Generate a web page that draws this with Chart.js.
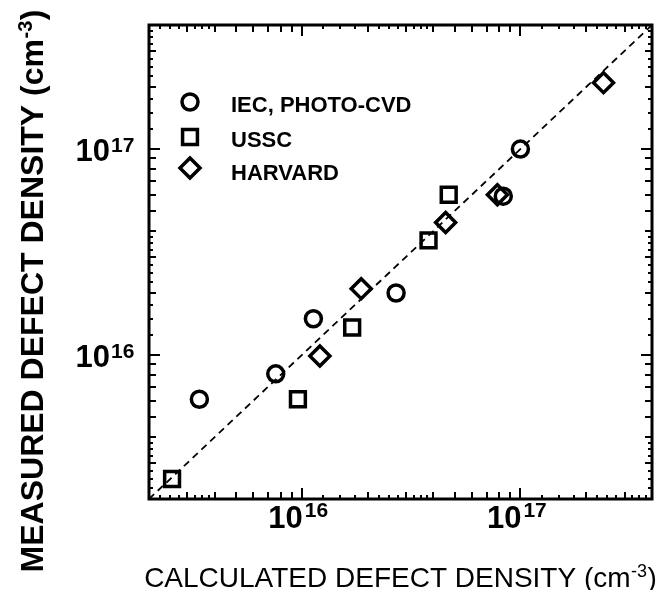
<!DOCTYPE html>
<html>
<head>
<meta charset="utf-8">
<script src="https://cdn.jsdelivr.net/npm/chart.js@4.4.0/dist/chart.umd.min.js"></script>
<style>
html,body{margin:0;padding:0;background:#fff;}
#wrap{width:669px;height:590px;}
</style>
</head>
<body>
<div id="wrap"><canvas id="c" width="669" height="590"></canvas></div>
<script>
// ---- data ----
const seriesLabels = ['IEC, PHOTO-CVD', 'USSC', 'HARVARD'];
const iecX  = [3.4e15, 7.6e15, 1.13e16, 2.7e16, 8.35e16, 1.0e17];
const iecY  = [6.1e15, 8.1e15, 1.5e16, 2.0e16, 5.9e16, 1.0e17];
const usscX = [2.55e15, 9.6e15, 1.7e16, 3.8e16, 4.7e16];
const usscY = [2.5e15, 6.1e15, 1.36e16, 3.6e16, 6.0e16];
const harvX = [1.21e16, 1.87e16, 4.55e16, 7.85e16, 2.4e17];
const harvY = [9.9e15, 2.1e16, 4.4e16, 6.0e16, 2.1e17];
const fitX  = [2e15, 4e17];
const fitY  = [2e15, 4e17];
const axisMin = 2e15;
const axisMax = 4e17;
const majorTicks = [1e16, 1e17];
const tickBase = ['10', '10'];
const tickExp = ['16', '17'];
const minorMantissas = [1.25, 1.5, 1.75, 2, 2.25, 2.5, 2.75, 3, 3.25, 3.5, 3.75, 4, 5, 6, 7, 8, 9];
const xTitle = ['CALCULATED DEFECT DENSITY (cm', '-3', ')'];
const yTitle = ['MEASURED DEFECT DENSITY (cm', '-3', ')'];

const pts = (xs, ys) => xs.map((x, i) => ({x: x, y: ys[i]}));
const FONT = '"Liberation Sans", Arial, Helvetica, sans-serif';
const MARK = [
  {style: 'circle', r: 8},
  {style: 'rect', r: 10.5},
  {style: 'rectRot', r: 10}
];
const MARK_LW = 3.5;

function markerPath(ctx, style, r, x, y) {
  ctx.beginPath();
  if (style === 'circle') {
    ctx.arc(x, y, r, 0, Math.PI * 2);
  } else if (style === 'rect') {
    const h = r * Math.SQRT1_2;
    ctx.rect(x - h, y - h, 2 * h, 2 * h);
  } else {
    ctx.moveTo(x - r, y); ctx.lineTo(x, y - r); ctx.lineTo(x + r, y); ctx.lineTo(x, y + r);
    ctx.closePath();
  }
}

function drawSupText(ctx, parts, font, supFont, rise) {
  ctx.font = font;
  const w0 = ctx.measureText(parts[0]).width;
  const w2 = ctx.measureText(parts[2]).width;
  ctx.font = supFont;
  const w1 = ctx.measureText(parts[1]).width + 1;
  const total = w0 + w1 + w2;
  let x = -total / 2;
  ctx.textAlign = 'left';
  ctx.textBaseline = 'alphabetic';
  ctx.font = font; ctx.fillText(parts[0], x, 0); x += w0;
  ctx.font = supFont; ctx.fillText(parts[1], x + 0.5, -rise); x += w1;
  ctx.font = font; ctx.fillText(parts[2], x, 0);
}

const decor = {
  id: 'decor',
  afterDraw(chart) {
    const ctx = chart.ctx;
    const a = chart.chartArea;
    const xs = chart.scales.x, ys = chart.scales.y;
    ctx.save();
    ctx.strokeStyle = '#000';
    ctx.fillStyle = '#000';
    // inward ticks on all four sides
    ctx.lineWidth = 2;
    const lo = Math.floor(Math.log10(axisMin)), hi = Math.ceil(Math.log10(axisMax));
    for (let d = lo; d <= hi; d++) {
      const ms = [1].concat(minorMantissas);
      for (const m of ms) {
        const v = m * Math.pow(10, d);
        if (v <= axisMin * 1.0001 || v >= axisMax * 0.9999) continue;
        const len = m === 1 ? 11 : (Number.isInteger(m) ? 7 : 4);
        const px = Math.round(xs.getPixelForValue(v));
        const py = Math.round(ys.getPixelForValue(v));
        ctx.beginPath();
        ctx.moveTo(px, a.bottom); ctx.lineTo(px, a.bottom - len);
        ctx.moveTo(px, a.top); ctx.lineTo(px, a.top + len);
        ctx.moveTo(a.left, py); ctx.lineTo(a.left + len, py);
        ctx.moveTo(a.right, py); ctx.lineTo(a.right - len, py);
        ctx.stroke();
      }
    }
    // frame
    ctx.lineWidth = 3;
    ctx.strokeRect(a.left, a.top, a.right - a.left, a.bottom - a.top);

    // tick labels
    majorTicks.forEach((v, i) => {
      const px = xs.getPixelForValue(v);
      ctx.textBaseline = 'alphabetic';
      ctx.font = 'bold 31px ' + FONT;
      ctx.textAlign = 'right';
      ctx.fillText(tickBase[i], px + 1, a.bottom + 29);
      ctx.font = 'bold 21px ' + FONT;
      ctx.textAlign = 'left';
      ctx.fillText(tickExp[i], px + 3, a.bottom + 18);

      const py = ys.getPixelForValue(v);
      ctx.font = 'bold 31px ' + FONT;
      ctx.textAlign = 'right';
      ctx.fillText(tickBase[i], a.left - 39, py + 12);
      ctx.font = 'bold 21px ' + FONT;
      ctx.textAlign = 'left';
      ctx.fillText(tickExp[i], a.left - 38, py + 3);
    });

    // axis titles
    ctx.save();
    ctx.translate((a.left + a.right) / 2, a.bottom + 88);
    drawSupText(ctx, xTitle, '28px ' + FONT, '18px ' + FONT, 10);
    ctx.restore();

    ctx.save();
    ctx.translate(43, 291);
    ctx.rotate(-Math.PI / 2);
    drawSupText(ctx, yTitle, 'bold 32px ' + FONT, 'bold 20px ' + FONT, 11);
    ctx.restore();

    // legend
    seriesLabels.forEach((lab, i) => {
      const cy = [a.top + 77, a.top + 112, a.top + 143][i];
      ctx.lineWidth = MARK_LW;
      markerPath(ctx, MARK[i].style, MARK[i].r, a.left + 41, cy);
      ctx.stroke();
      ctx.font = 'bold 22px ' + FONT;
      ctx.textAlign = 'left';
      ctx.textBaseline = 'alphabetic';
      ctx.fillText(lab, a.left + 82, [a.top + 87, a.top + 122, a.top + 155][i]);
    });
    ctx.restore();
  }
};

const markerDs = (label, data, i) => ({
  label: label,
  data: data,
  pointStyle: MARK[i].style,
  pointRadius: MARK[i].r,
  pointHoverRadius: MARK[i].r,
  pointBorderWidth: MARK_LW,
  pointBorderColor: '#000',
  pointBackgroundColor: 'rgba(0,0,0,0)',
  borderColor: '#000',
  backgroundColor: 'rgba(0,0,0,0)',
  showLine: false,
  order: 1
});

new Chart(document.getElementById('c'), {
  type: 'scatter',
  data: {
    datasets: [
      {
        label: 'y = x',
        data: pts(fitX, fitY),
        showLine: true,
        borderColor: '#000',
        borderWidth: 1.8,
        borderDash: [7, 5],
        pointRadius: 0,
        fill: false,
        order: 2
      },
      markerDs(seriesLabels[0], pts(iecX, iecY), 0),
      markerDs(seriesLabels[1], pts(usscX, usscY), 1),
      markerDs(seriesLabels[2], pts(harvX, harvY), 2)
    ]
  },
  options: {
    responsive: false,
    animation: false,
    devicePixelRatio: 1,
    layout: {padding: {top: 25, right: 17, left: 0, bottom: 0}},
    plugins: {legend: {display: false}, tooltip: {enabled: false}},
    scales: {
      x: {
        type: 'logarithmic',
        position: 'bottom',
        min: axisMin, max: axisMax,
        grid: {display: false},
        border: {display: false},
        ticks: {display: false},
        afterFit: (s) => { s.height = 91; }
      },
      y: {
        type: 'logarithmic',
        position: 'left',
        min: axisMin, max: axisMax,
        grid: {display: false},
        border: {display: false},
        ticks: {display: false},
        afterFit: (s) => { s.width = 149; }
      }
    }
  },
  plugins: [decor]
});
</script>
</body>
</html>
